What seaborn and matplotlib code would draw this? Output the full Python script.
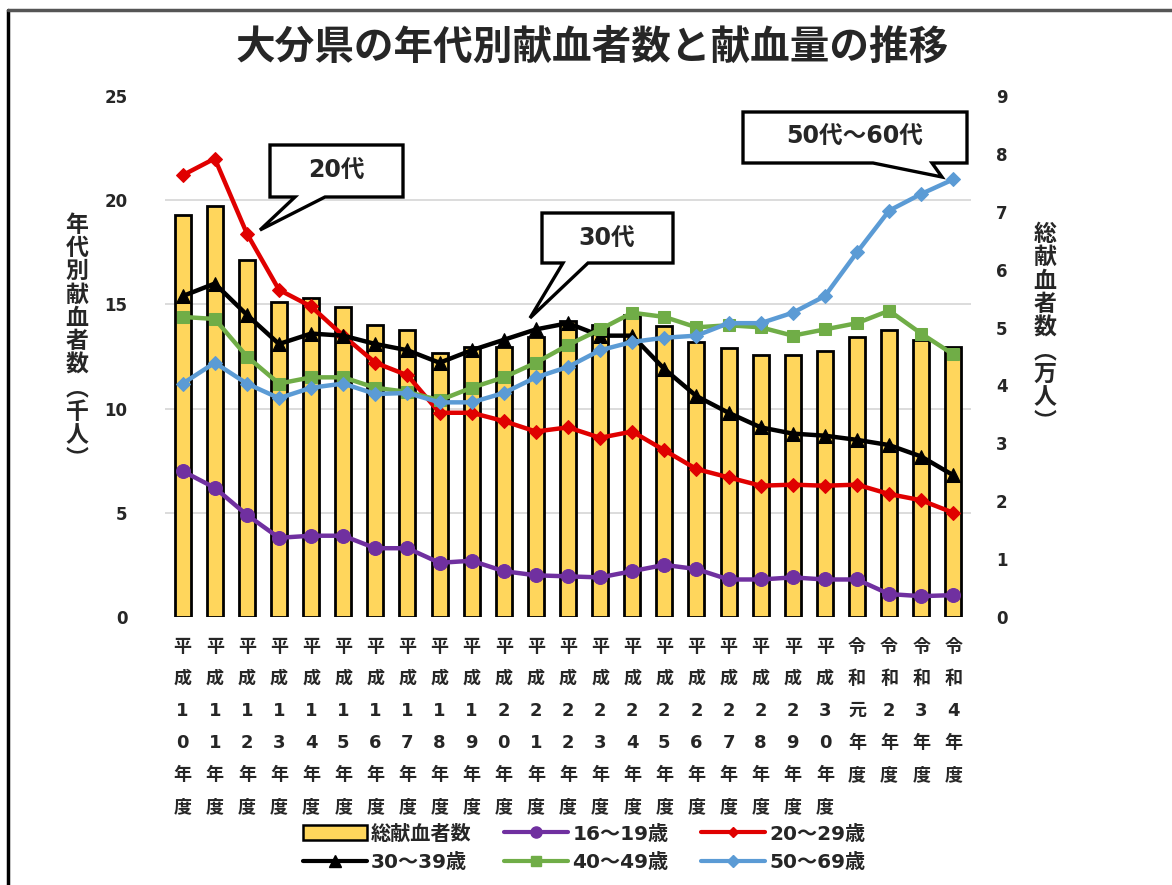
import numpy as np
import pandas as pd
import matplotlib
matplotlib.use("Agg")
import matplotlib.pyplot as plt
import seaborn as sns
from matplotlib.patches import Polygon, Patch
from matplotlib.lines import Line2D

# ---------------- data ----------------
categories = ["平成10年度", "平成11年度", "平成12年度", "平成13年度", "平成14年度",
              "平成15年度", "平成16年度", "平成17年度", "平成18年度", "平成19年度",
              "平成20年度", "平成21年度", "平成22年度", "平成23年度", "平成24年度",
              "平成25年度", "平成26年度", "平成27年度", "平成28年度", "平成29年度",
              "平成30年度", "令和元年度", "令和2年度", "令和3年度", "令和4年度"]

total_donors = [6.94, 7.10, 6.17, 5.44, 5.51, 5.35, 5.04, 4.95, 4.56, 4.66,
                4.67, 4.84, 5.12, 5.04, 5.22, 5.03, 4.75, 4.64, 4.53, 4.53,
                4.60, 4.84, 4.96, 4.78, 4.66]          # 万人 (right axis)

age_16_19 = [7.0, 6.2, 4.9, 3.8, 3.9, 3.9, 3.3, 3.3, 2.6, 2.7,
             2.2, 2.0, 1.95, 1.9, 2.2, 2.5, 2.3, 1.8, 1.8, 1.9,
             1.8, 1.8, 1.1, 1.0, 1.05]
age_20_29 = [21.2, 22.0, 18.4, 15.7, 14.9, 13.5, 12.2, 11.6, 9.8, 9.8,
             9.4, 8.9, 9.1, 8.6, 8.9, 8.0, 7.1, 6.7, 6.3, 6.35,
             6.3, 6.35, 5.9, 5.6, 5.0]
age_30_39 = [15.4, 16.0, 14.5, 13.1, 13.6, 13.5, 13.1, 12.8, 12.2, 12.8,
             13.3, 13.8, 14.1, 13.5, 13.5, 11.9, 10.6, 9.8, 9.1, 8.8,
             8.7, 8.5, 8.25, 7.7, 6.8]
age_40_49 = [14.4, 14.3, 12.5, 11.2, 11.5, 11.5, 11.0, 10.8, 10.4, 11.0,
             11.5, 12.2, 13.05, 13.8, 14.6, 14.4, 13.9, 14.0, 13.9, 13.5,
             13.8, 14.1, 14.7, 13.6, 12.6]
age_50_69 = [11.2, 12.2, 11.2, 10.5, 11.0, 11.2, 10.7, 10.75, 10.3, 10.3,
             10.75, 11.5, 12.0, 12.8, 13.2, 13.4, 13.5, 14.1, 14.1, 14.6,
             15.4, 17.5, 19.5, 20.3, 21.0]

bar_label = "総献血者数"
series_labels = ["16～19歳", "20～29歳", "30～39歳", "40～49歳", "50～69歳"]
series_values = [age_16_19, age_20_29, age_30_39, age_40_49, age_50_69]

title = "大分県の年代別献血者数と献血量の推移"
left_label = "年代別献血者数︵千人︶"
right_label = "総献血者数︵万人︶"
left_ticks = [0, 5, 10, 15, 20, 25]
right_ticks = [0, 1, 2, 3, 4, 5, 6, 7, 8, 9]
callouts = ["20代", "30代", "50代～60代"]

# ---------------- style ----------------
sns.set_theme(style="white")
plt.rcParams["font.family"] = ["DejaVu Sans", "Noto Sans CJK JP"]
plt.rcParams["font.weight"] = "bold"

BAR_COLOR = "#FFD65C"
colors = ["#7030A0", "#E00000", "#000000", "#70AD47", "#5B9BD5"]
markers = ["o", "D", "^", "s", "D"]
msizes = [10, 7, 10, 9, 7.5]

W, H = 1172, 885
fig = plt.figure(figsize=(W / 100, H / 100), dpi=100)
fig.patch.set_facecolor("white")

x0, x1, y0, y1 = 165, 971, 96, 617
ax_bars = fig.add_axes([x0 / W, 1 - y1 / H, (x1 - x0) / W, (y1 - y0) / H])
ax_lines = ax_bars.twinx()
ax_lines.set_zorder(ax_bars.get_zorder() + 1)
ax_lines.patch.set_visible(False)

xpos = np.arange(len(categories))

# bars (right axis scale)
sns.barplot(x=categories, y=total_donors, color=BAR_COLOR, saturation=1,
            edgecolor="black", linewidth=2, width=0.5, ax=ax_bars)

# lines (left axis scale)
for vals, c, m, ms in zip(series_values, colors, markers, msizes):
    sns.lineplot(x=xpos, y=vals, ax=ax_lines, color=c, marker=m, markersize=ms,
                 markeredgecolor=c, linewidth=3.2, legend=False)

# axes config
for a in (ax_bars, ax_lines):
    for s in a.spines.values():
        s.set_visible(False)
    a.set_xlabel("")
    a.set_ylabel("")

ax_bars.set_xlim(-0.55, len(categories) - 0.45)
ax_bars.set_ylim(0, 9)
ax_lines.set_ylim(0, 25)

ax_bars.set_xticks(xpos)
ax_bars.set_xticklabels(["\n".join(list(c)) for c in categories],
                        fontsize=13, fontweight="bold", linespacing=2.0, va="top")
ax_bars.tick_params(axis="x", length=0, pad=15)

# right ticks for bars
ax_bars.yaxis.tick_right()
ax_bars.set_yticks(right_ticks)
ax_bars.set_yticklabels([str(t) for t in right_ticks], fontsize=12, fontweight="bold")
ax_bars.tick_params(axis="y", which="major", length=0, pad=18)
# gridlines matching the left scale (behind bars)
ax_bars.set_yticks(np.linspace(0, 9, len(left_ticks)), minor=True)
ax_bars.tick_params(axis="y", which="minor", length=0, labelright=False)
ax_bars.grid(False, which="major")
ax_bars.grid(True, which="minor", axis="y", color="#D9D9D9", linewidth=1.3)
ax_bars.set_axisbelow(True)

# left ticks for lines
ax_lines.yaxis.tick_left()
ax_lines.set_yticks(left_ticks)
ax_lines.set_yticklabels([str(t) for t in left_ticks], fontsize=12, fontweight="bold")
ax_lines.tick_params(axis="y", length=0, pad=27)
ax_lines.grid(False)

# axis labels (vertical stacked)
fig.text(77 / W, 1 - 342 / H, "\n".join(list(left_label)), ha="center", va="center",
         fontsize=16.5, fontweight="bold", linespacing=1.02)
fig.text(1045 / W, 1 - 328 / H, "\n".join(list(right_label)), ha="center", va="center",
         fontsize=16.5, fontweight="bold", linespacing=1.02)

# title
fig.text(592 / W, 1 - 48 / H, title, ha="center", va="center",
         fontsize=28.5, fontweight="bold")

# callout boxes (speech bubbles), figure pixel geometry
def callout(box, tail, text_center, text, fs):
    bx0, by0, bx1, by1 = box
    (t0, t1), (tx, ty) = tail
    pts = [(bx0, by0), (bx1, by0), (bx1, by1), (t1, by1), (tx, ty), (t0, by1), (bx0, by1)]
    pts = [(px / W, 1 - py / H) for px, py in pts]
    fig.add_artist(Polygon(pts, closed=True, transform=fig.transFigure,
                           facecolor="white", edgecolor="black", linewidth=2.4, zorder=10))
    fig.text(text_center[0] / W, 1 - text_center[1] / H, text, ha="center", va="center",
             fontsize=fs, fontweight="bold", zorder=11)

callout((270, 145, 403, 197), ((295, 325), (260, 230)), (336, 171), callouts[0], 17)
callout((542, 213, 673, 263), ((563, 588), (530, 318)), (607, 239), callouts[1], 17)
callout((743, 112, 967, 163), ((873, 932), (942, 177)), (855, 137), callouts[2], 17)

# legend
bar_handle = Patch(facecolor=BAR_COLOR, edgecolor="black", linewidth=1.8)
line_handles = [Line2D([], [], color=c, marker=m, markersize=ms * 0.8, markeredgecolor=c, linewidth=3)
                for c, m, ms in zip(colors, markers, msizes)]
handles = [bar_handle, line_handles[2], line_handles[0], line_handles[3], line_handles[1], line_handles[4]]
labels = [bar_label, series_labels[2], series_labels[0], series_labels[3], series_labels[1], series_labels[4]]
fig.legend(handles, labels, loc="center", bbox_to_anchor=(584 / W, 1 - 848 / H), ncol=3,
           frameon=False, prop={"size": 14.5, "weight": "bold"}, handlelength=3.2,
           handletextpad=0.2, columnspacing=1.6, labelspacing=0.45)

# outer frame fragments (left and top)
fig.add_artist(Line2D([8 / W, 8 / W], [0, 1 - 10 / H], color="black", linewidth=2.5,
                      transform=fig.transFigure))
fig.add_artist(Line2D([8 / W, 1], [1 - 10 / H, 1 - 10 / H], color="#555555", linewidth=2.5,
                      transform=fig.transFigure))

fig.savefig("out.png", dpi=100)
